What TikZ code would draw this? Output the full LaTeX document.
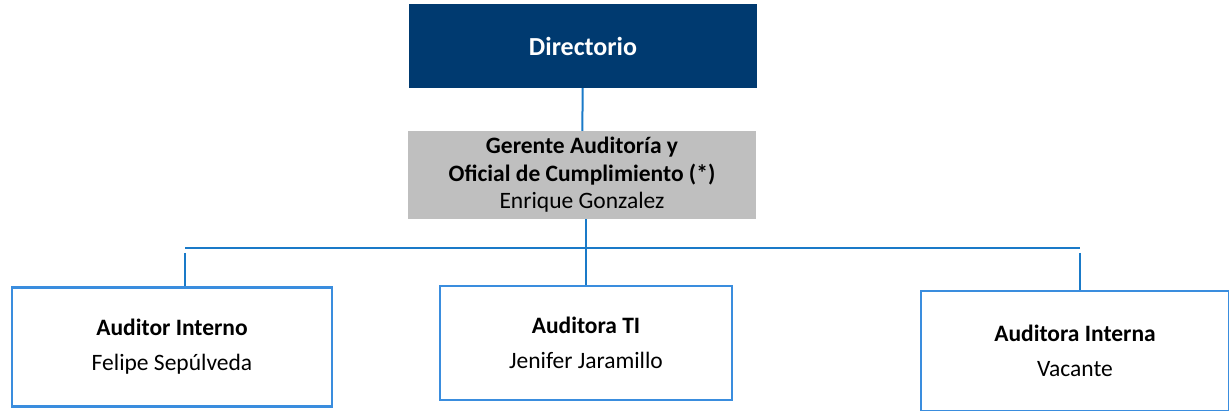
\documentclass[tikz,border=0pt]{standalone}
\usepackage{fontspec}
\setmainfont{Carlito}
\usepackage{tikz}
\usetikzlibrary{positioning}

\definecolor{dirblue}{HTML}{003A70}
\definecolor{gergray}{HTML}{BFBFBF}
\definecolor{linkblue}{HTML}{1A7AC8}
\definecolor{boxblue}{HTML}{3A8DDE}

\tikzset{
  dirbox/.style={fill=dirblue, text=white, minimum width=348pt, minimum height=84pt,
    inner sep=0pt, font=\fontsize{26}{30}\selectfont\bfseries},
  gerbox/.style={fill=gergray, minimum width=348pt, minimum height=88pt, inner sep=0pt,
    align=center, font=\fontsize{23.5}{27.5}\selectfont},
  audbox/.style={draw=boxblue, line width=2.8pt, fill=white, inner sep=0pt,
    align=center, font=\fontsize{23.5}{35}\selectfont},
  link/.style={draw=linkblue, line width=2pt}
}

\begin{document}
\begin{tikzpicture}[x=1pt,y=-1pt]
            \useasboundingbox (0,0) rectangle (1229,411);

            \node[dirbox] (dir) at (583,46) {Directorio};
            \node[gerbox] (ger) at (582,175) {\textbf{Gerente Auditoría y}\\\textbf{Oficial de Cumplimiento (*)}\\Enrique Gonzalez};

            \node[audbox, minimum width=320pt, minimum height=119pt] (aud1) at (172,347) {\textbf{Auditor Interno}\\Felipe Sepúlveda};
            \node[audbox, minimum width=292pt, minimum height=114pt] (aud2) at (586,343) {\textbf{Auditora TI}\\Jenifer Jaramillo};
            \node[audbox, minimum width=308pt, minimum height=120pt] (aud3) at (1075,351) {\textbf{Auditora Interna}\\Vacante};

            \coordinate (busL) at (185,248);
            \coordinate (busR) at (1080,248);
            \coordinate (dropL) at (185,253);
            \coordinate (dropR) at (1080,253);

            \draw[link] (dir) -- (ger);
            \draw[link] (ger.south -| aud2.north) -- (aud2.north);
            \draw[link] (busL) -- (busR);
            \draw[link] (dropL) -- (dropL |- aud1.north);
            \draw[link] (dropR) -- (dropR |- aud3.north);
        \end{tikzpicture}
\end{document}
